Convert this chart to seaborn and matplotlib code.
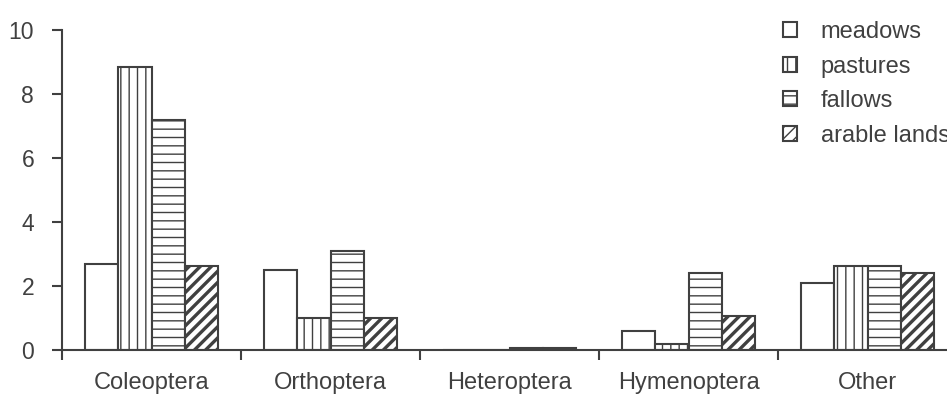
import matplotlib
matplotlib.use("Agg")
import matplotlib.pyplot as plt
import seaborn as sns
import pandas as pd
import numpy as np

categories = ["Coleoptera", "Orthoptera", "Heteroptera", "Hymenoptera", "Other"]
habitats = ["meadows", "pastures", "fallows", "arable lands"]
meadows = [2.70, 2.50, 0.0, 0.60, 2.08]
pastures = [8.85, 1.00, 0.0, 0.20, 2.62]
fallows = [7.20, 3.08, 0.07, 2.42, 2.62]
arable = [2.62, 1.00, 0.07, 1.07, 2.40]
yticks = [0, 2, 4, 6, 8, 10]

series = [meadows, pastures, fallows, arable]
rows = []
for h, vals in zip(habitats, series):
    for c, v in zip(categories, vals):
        rows.append({"group": c, "habitat": h, "value": v})
df = pd.DataFrame(rows)

sns.set_style("white")
plt.rcParams['font.family'] = ['Liberation Sans', 'DejaVu Sans']
dark = "#404040"

fig = plt.figure(figsize=(9.47, 4.03), dpi=100)
ax = fig.add_axes([62/947, 53/403, 895/947, 320/403])

sns.barplot(data=df, x="group", y="value", hue="habitat", order=categories,
            hue_order=habitats, palette=["white"]*4, edgecolor=dark,
            linewidth=1.5, width=0.74, saturation=1, ax=ax, legend=False)

hatches = ["", "||", "--", "///"]
for cont, hatch in zip(ax.containers, hatches):
    for p in cont.patches:
        p.set_hatch(hatch)
        p.set_edgecolor(dark)
        p.set_facecolor("white")
        try:
            p.set_hatch_linewidth(2.4 if hatch == "///" else 1.0)
        except Exception:
            pass

ax.set_xlim(-0.5, 4.5)
ax.set_ylim(0, 10)
ax.set_yticks(yticks)
ax.set_yticklabels([str(t) for t in yticks])
ax.set_xticks(range(len(categories)))
ax.set_xticklabels(categories)
ax.set_xticks(np.arange(-0.5, 5.0, 1.0), minor=True)
ax.tick_params(axis="x", which="major", length=0, pad=16, labelsize=17, labelcolor=dark)
ax.tick_params(axis="x", which="minor", length=7, width=1.5, color=dark, direction="out", bottom=True)
ax.tick_params(axis="y", length=7, width=1.5, color=dark, direction="out", left=True,
               labelsize=16.5, labelcolor=dark, pad=13)
ax.set_xlabel("")
ax.set_ylabel("")
for s in ["top", "right"]:
    ax.spines[s].set_visible(False)
for s in ["left", "bottom"]:
    ax.spines[s].set_color(dark)
    ax.spines[s].set_linewidth(1.5)

handles = [cont.patches[0] for cont in ax.containers]
leg = fig.legend(handles, habitats, loc="upper left", bbox_to_anchor=(783/947, 1 - 21/403),
                 frameon=False, fontsize=17, handlelength=0.6, handleheight=0.6,
                 handletextpad=1.0, labelspacing=0.53, borderaxespad=0, borderpad=0)
for t in leg.get_texts():
    t.set_color(dark)

fig.savefig("out.png", dpi=100)
